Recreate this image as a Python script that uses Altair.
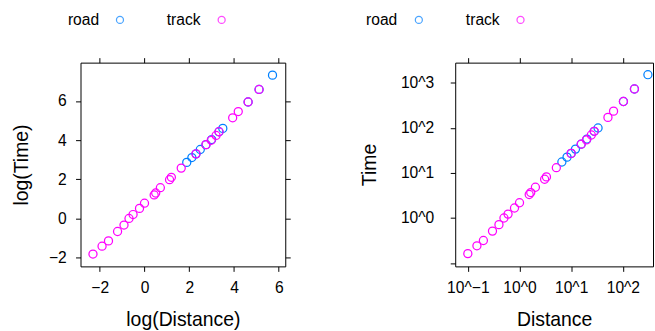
import altair as alt
import pandas as pd
import numpy as np

# ---- data ----
groups = ["road", "track"]
colors = ["#0080ff", "#ff00ff"]

road_distance = [6.6, 8.3, 10.0, 12.1, 15.6, 20.1, 27.9, 33.1, 102.5, 167.3, 305.0]
road_time = [17.5, 22.4, 27.1, 33.8, 43.4, 56.3, 83.9, 99.5, 383.8, 727.7, 1510.0]

track_distance = [0.1, 0.15, 0.2, 0.3, 0.4, 0.5, 0.6, 0.8, 1.0, 1.54, 1.65, 2.03,
                  3.06, 3.32, 5.16, 9.97, 15.6, 19.7, 24.5, 27.9, 51.4, 66.0, 102.5, 167.3]
track_time = [0.162, 0.242, 0.317, 0.512, 0.712, 1.0, 1.22, 1.67, 2.18, 3.32, 3.67, 4.81,
              7.24, 8.17, 13.07, 27.1, 43.4, 54.1, 69.4, 83.9, 170.7, 235.0, 384.0, 728.0]

left_x_ticks = [-2, 0, 2, 4, 6]
left_y_ticks = [-2, 0, 2, 4, 6]
right_x_ticks = [0.1, 1, 10, 100]
right_y_ticks = [0.1, 1, 10, 100, 1000]

df = pd.concat([
    pd.DataFrame({"Distance": road_distance, "Time": road_time, "roadORtrack": groups[0]}),
    pd.DataFrame({"Distance": track_distance, "Time": track_time, "roadORtrack": groups[1]}),
], ignore_index=True)
df["logDistance"] = np.log(df["Distance"])
df["logTime"] = np.log(df["Time"])

FONT = "Liberation Sans"
TICK_FS = 15.7
TITLE_FS = 19.5
H = 205
W1 = 206
W2 = 199

color_enc = alt.Color("roadORtrack:N", scale=alt.Scale(domain=groups, range=colors), legend=None)


def main_axis(values, orient, label_pad, extent, title_pad, label_expr=None):
    kw = dict(values=values, orient=orient, grid=False, domain=False, tickSize=5,
              tickColor="black", tickWidth=1, labelFont=FONT, labelFontSize=TICK_FS,
              labelColor="black", labelPadding=label_pad, minExtent=extent, maxExtent=extent,
              titleFont=FONT, titleFontSize=TITLE_FS, titleFontWeight="normal",
              titleColor="black", titlePadding=title_pad, labelFlush=False, labelOverlap=False)
    if label_expr:
        kw["labelExpr"] = label_expr
    return alt.Axis(**kw)


def sec_axis(values, orient):
    return alt.Axis(values=values, orient=orient, grid=False, domain=False, labels=False,
                    tickSize=5, tickColor="black", tickWidth=1, title=None)


def points(x, y, opacity=1.0):
    return alt.Chart(df).mark_point(shape="circle", filled=False, size=66,
                                    strokeWidth=1.25, opacity=opacity).encode(
        x=x, y=y, color=color_enc)


def legend_layers(text_x, sym_x, y=-43):
    out = []
    for g, c, tx, sx in zip(groups, colors, text_x, sym_x):
        d = pd.DataFrame({"label": [g]})
        out.append(alt.Chart(d).mark_text(align="right", baseline="middle", font=FONT,
                                          fontSize=TICK_FS, color="black").encode(
            text="label:N", x=alt.value(tx), y=alt.value(y)))
        out.append(alt.Chart(d).mark_point(shape="circle", filled=False, size=50,
                                           strokeWidth=1.25, color=c).encode(
            x=alt.value(sx), y=alt.value(y)))
    return out


# ---- left panel: log(Time) ~ log(Distance) ----
xs1 = alt.Scale(domain=[-2.86, 6.29], nice=False, zero=False)
ys1 = alt.Scale(domain=[-2.45, 7.96], nice=False, zero=False)

left_main = points(
    alt.X("logDistance:Q", scale=xs1, title="log(Distance)",
          axis=main_axis(left_x_ticks, "bottom", 9.3, 30, 14.6)),
    alt.Y("logTime:Q", scale=ys1, title="log(Time)",
          axis=main_axis(left_y_ticks, "left", 9.3, 32, 17.5)),
)
left_sec = points(
    alt.X("logDistance:Q", scale=xs1, axis=sec_axis(left_x_ticks, "top")),
    alt.Y("logTime:Q", scale=ys1, axis=sec_axis(left_y_ticks, "right")),
    opacity=0,
)
left = alt.layer(left_sec, left_main, *legend_layers([18.7, 120.7], [39.7, 142])).resolve_axis(
    x="independent", y="independent").properties(width=W1, height=H)

# ---- right panel: Time ~ Distance on log10 scales ----
xs2 = alt.Scale(type="log", domain=[10 ** -1.244, 10 ** 2.583], nice=False)
ys2 = alt.Scale(type="log", domain=[10 ** -1.073, 10 ** 3.447], nice=False)
lab_x = "'10^' + format(round(log(datum.value) / LN10), 'd')"
lab_y = "datum.value < 0.5 ? '' : '10^' + format(round(log(datum.value) / LN10), 'd')"

right_main = points(
    alt.X("Distance:Q", scale=xs2, title="Distance",
          axis=main_axis(right_x_ticks, "bottom", 9.3, 30, 14.6, lab_x)),
    alt.Y("Time:Q", scale=ys2, title="Time",
          axis=main_axis(right_y_ticks, "left", 16.6, 55, 21.5, lab_y)),
)
right_sec = points(
    alt.X("Distance:Q", scale=xs2, axis=sec_axis(right_x_ticks, "top")),
    alt.Y("Time:Q", scale=ys2, axis=None),
    opacity=0,
)
right = alt.layer(right_sec, right_main, *legend_layers([-58.3, 44.7], [-36.6, 65.7])).resolve_axis(
    x="independent", y="independent").properties(width=W2, height=H)

chart = alt.hconcat(left, right, spacing=171, bounds="flush").properties(
    padding={"left": 11, "top": 10, "right": 0, "bottom": 0},
    background="white",
).configure_view(stroke="black", strokeWidth=1)

chart.save("out.html", embed_options={"renderer": "svg", "actions": False})
